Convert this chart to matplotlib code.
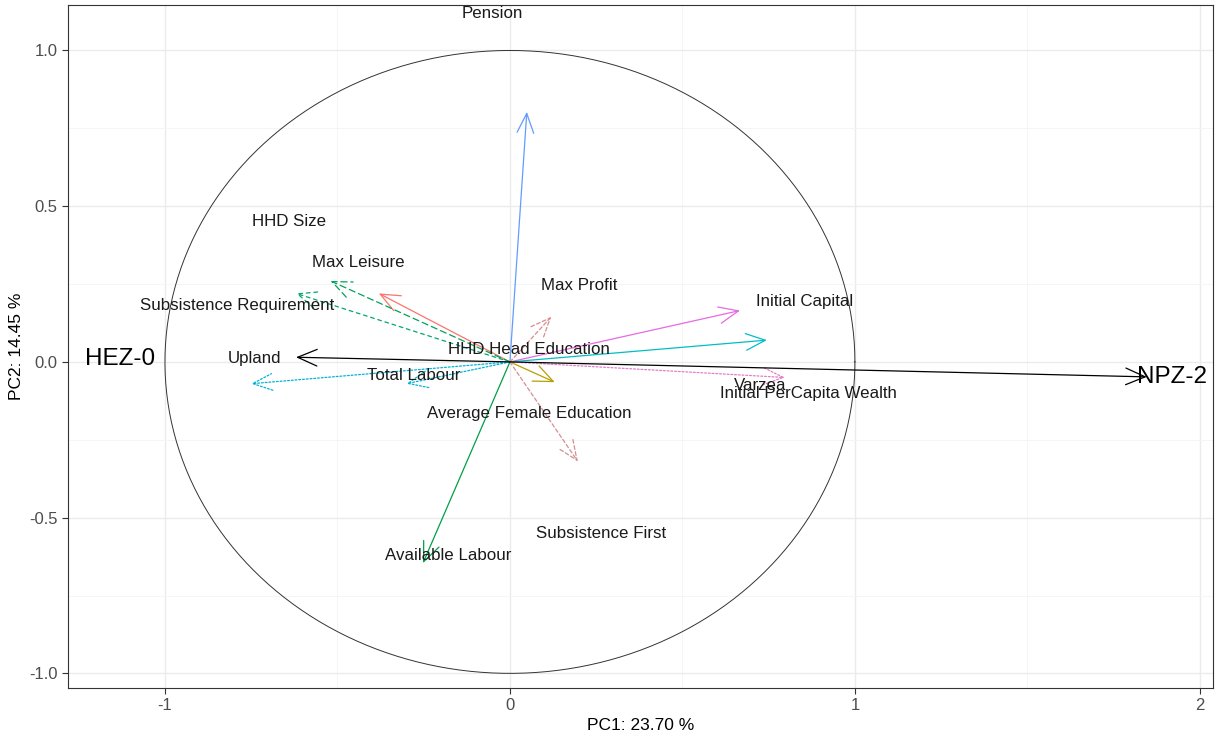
import numpy as np
import matplotlib
matplotlib.use("Agg")
import matplotlib.pyplot as plt

plt.rcParams['font.family'] = ['Liberation Sans', 'DejaVu Sans']

# Arrow loadings (PC1, PC2)
arrow_pc1 = [0.049, -0.38, -0.52, -0.62, -0.75, -0.30, 0.12, 0.667, 0.745, 0.797, 0.13, 0.197, -0.252, -0.62, 1.846]
arrow_pc2 = [0.803, 0.22, 0.26, 0.22, -0.07, -0.07, 0.145, 0.165, 0.07, -0.05, -0.065, -0.32, -0.646, 0.015, -0.048]
arrow_colors = ['#619CFF', '#F8766D', '#00A35A', '#00A86B', '#00B4D8', '#00B4D8', '#D98C8C', '#E66BE0',
                '#00BFC4', '#E07FC9', '#B79F00', '#D09090', '#00A046', 'black', 'black']
arrow_styles = ['-', '-', (0, (5, 3)), (0, (3, 3)), (0, (1.5, 1.5)), (0, (1.5, 1.5)), (0, (3, 2)), '-',
                '-', (0, (1.5, 1.5)), '-', (0, (3, 2)), '-', '-', '-']

# Variable labels
label_names = ['Pension', 'HHD Size', 'Max Leisure', 'Subsistence Requirement', 'Upland', 'Total Labour',
               'HHD Head Education', 'Max Profit', 'Initial Capital', 'Varzea', 'Initial PerCapita Wealth',
               'Average Female Education', 'Subsistence First', 'Available Labour']
label_x = [-0.05, -0.64, -0.44, -0.79, -0.74, -0.28, 0.055, 0.20, 0.855, 0.725, 0.865, 0.055, 0.265, -0.18]
label_y = [1.12, 0.45, 0.32, 0.18, 0.01, -0.045, 0.04, 0.245, 0.195, -0.075, -0.10, -0.167, -0.55, -0.62]

# Group labels
group_names = ['HEZ-0', 'NPZ-2']
group_x = [-1.13, 1.92]
group_y = [0.01, -0.05]

fig = plt.figure(figsize=(12.23, 7.55), dpi=100)
ax = fig.add_axes([68/1223, 1-688/755, (1213-68)/1223, (688-5)/755])

ax.set_xlim(-1.281, 2.038)
ax.set_ylim(-1.047, 1.146)

# grid
ax.set_xticks([-1, 0, 1, 2])
ax.set_xticklabels(['-1', '0', '1', '2'])
ax.set_yticks([-1.0, -0.5, 0.0, 0.5, 1.0])
ax.set_yticklabels(['-1.0', '-0.5', '0.0', '0.5', '1.0'])
ax.set_xticks([-0.5, 0.5, 1.5], minor=True)
ax.set_yticks([-0.75, -0.25, 0.25, 0.75], minor=True)
ax.grid(which='major', color='#EBEBEB', linewidth=1.0)
ax.grid(which='minor', color='#F4F4F4', linewidth=0.6)
ax.set_axisbelow(True)
ax.tick_params(which='minor', length=0)
ax.tick_params(which='major', length=4, color='#333333', labelsize=12, labelcolor='#4D4D4D')
for s in ax.spines.values():
    s.set_color('#333333')
    s.set_linewidth(0.8)

# unit circle
t = np.linspace(0, 2*np.pi, 400)
ax.plot(np.cos(t), np.sin(t), color='#333333', linewidth=0.7, zorder=2)

# arrows
for x, y, c, ls in zip(arrow_pc1, arrow_pc2, arrow_colors, arrow_styles):
    ax.annotate('', xy=(x, y), xytext=(0, 0),
                arrowprops=dict(arrowstyle='->,head_length=1.4,head_width=0.6', color=c,
                                linewidth=0.9, linestyle=ls, shrinkA=0, shrinkB=0),
                zorder=3)

for n, x, y in zip(label_names, label_x, label_y):
    ax.text(x, y, n, ha='center', va='center', fontsize=12.2, color='#1A1A1A', zorder=4)

for n, x, y in zip(group_names, group_x, group_y):
    ax.text(x, y, n, ha='center', va='center', fontsize=17.5, color='black', zorder=4)

ax.set_xlabel('PC1: 23.70 %', fontsize=12.5, labelpad=3)
ax.set_ylabel('PC2: 14.45 %', fontsize=12.5, labelpad=4)

fig.savefig('out.png', dpi=100)
